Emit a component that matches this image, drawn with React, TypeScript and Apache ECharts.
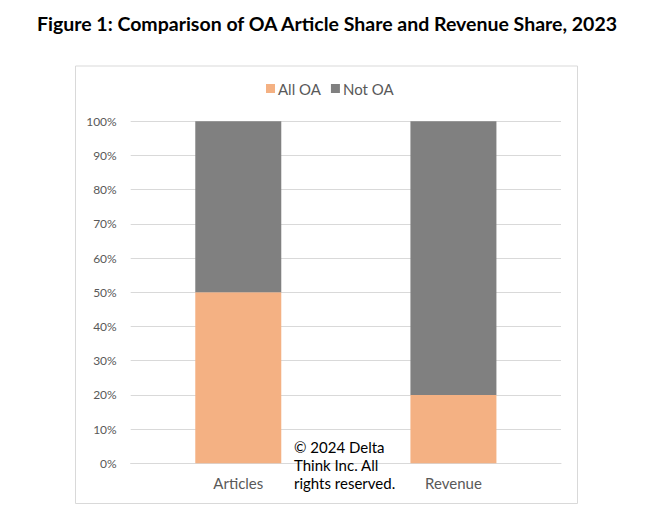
import React, { useEffect, useRef } from "react";
import * as echarts from "echarts";

const categories = ["Articles", "Revenue"];
const allOA = [50, 20];
const notOA = [50, 80];
const yTicks = [0, 10, 20, 30, 40, 50, 60, 70, 80, 90, 100];
const titleText = "Figure 1: Comparison of OA Article Share and Revenue Share, 2023";
const copyrightText = "© 2024 Delta\nThink Inc. All\nrights reserved.";

const FONT = "Lato, 'Open Sans', sans-serif";

export default function App() {
  const ref = useRef<HTMLDivElement>(null);
  useEffect(() => {
    document.body.style.margin = "0";
    const chart = echarts.init(ref.current!, null, { renderer: "svg" });
    chart.setOption({
      animation: false,
      backgroundColor: "#ffffff",
      textStyle: { fontFamily: FONT },
      title: {
        text: titleText,
        left: "center",
        top: 8,
        textStyle: { fontSize: 19.5, fontWeight: "bold", color: "#000000", fontFamily: FONT },
      },
      legend: {
        data: ["All OA", "Not OA"],
        left: 266,
        top: 81,
        padding: 0,
        itemWidth: 9,
        itemHeight: 9,
        itemGap: 10,
        icon: "rect",
        textStyle: { fontSize: 15, color: "#595959", fontFamily: FONT, padding: [0, 0, 0, -2] },
      },
      grid: { left: 130.7, right: 93, top: 121.3, bottom: 63.7, containLabel: false },
      xAxis: {
        type: "category",
        data: categories,
        axisLine: { show: true, lineStyle: { color: "#D9D9D9", width: 1 } },
        axisTick: { show: false },
        axisLabel: { fontSize: 15, color: "#595959", margin: 12, fontFamily: FONT },
      },
      yAxis: {
        type: "value",
        min: yTicks[0],
        max: yTicks[yTicks.length - 1],
        interval: 10,
        axisLine: { show: false },
        axisTick: { show: false },
        splitLine: { lineStyle: { color: "#D9D9D9", width: 1 } },
        axisLabel: { formatter: "{value}%", fontSize: 12, color: "#595959", margin: 14, fontFamily: FONT },
      },
      series: [
        {
          name: "All OA",
          type: "bar",
          stack: "total",
          data: allOA,
          barWidth: 86,
          itemStyle: { color: "#F4B183" },
        },
        {
          name: "Not OA",
          type: "bar",
          stack: "total",
          data: notOA,
          barWidth: 86,
          itemStyle: { color: "#808080" },
        },
      ],
      graphic: [
        {
          type: "rect",
          shape: { x: 75.5, y: 66, width: 502, height: 437.5 },
          style: { fill: "none", stroke: "#D9D9D9", lineWidth: 1 },
          silent: true,
          z: -1,
        },
        {
          type: "text",
          left: 294,
          top: 438,
          style: {
            text: copyrightText,
            fontSize: 15,
            lineHeight: 18,
            fill: "#000000",
            fontFamily: FONT,
          },
          z: 10,
        },
      ],
    });
    return () => chart.dispose();
  }, []);
  return <div ref={ref} style={{ width: 654, height: 527 }} />;
}
